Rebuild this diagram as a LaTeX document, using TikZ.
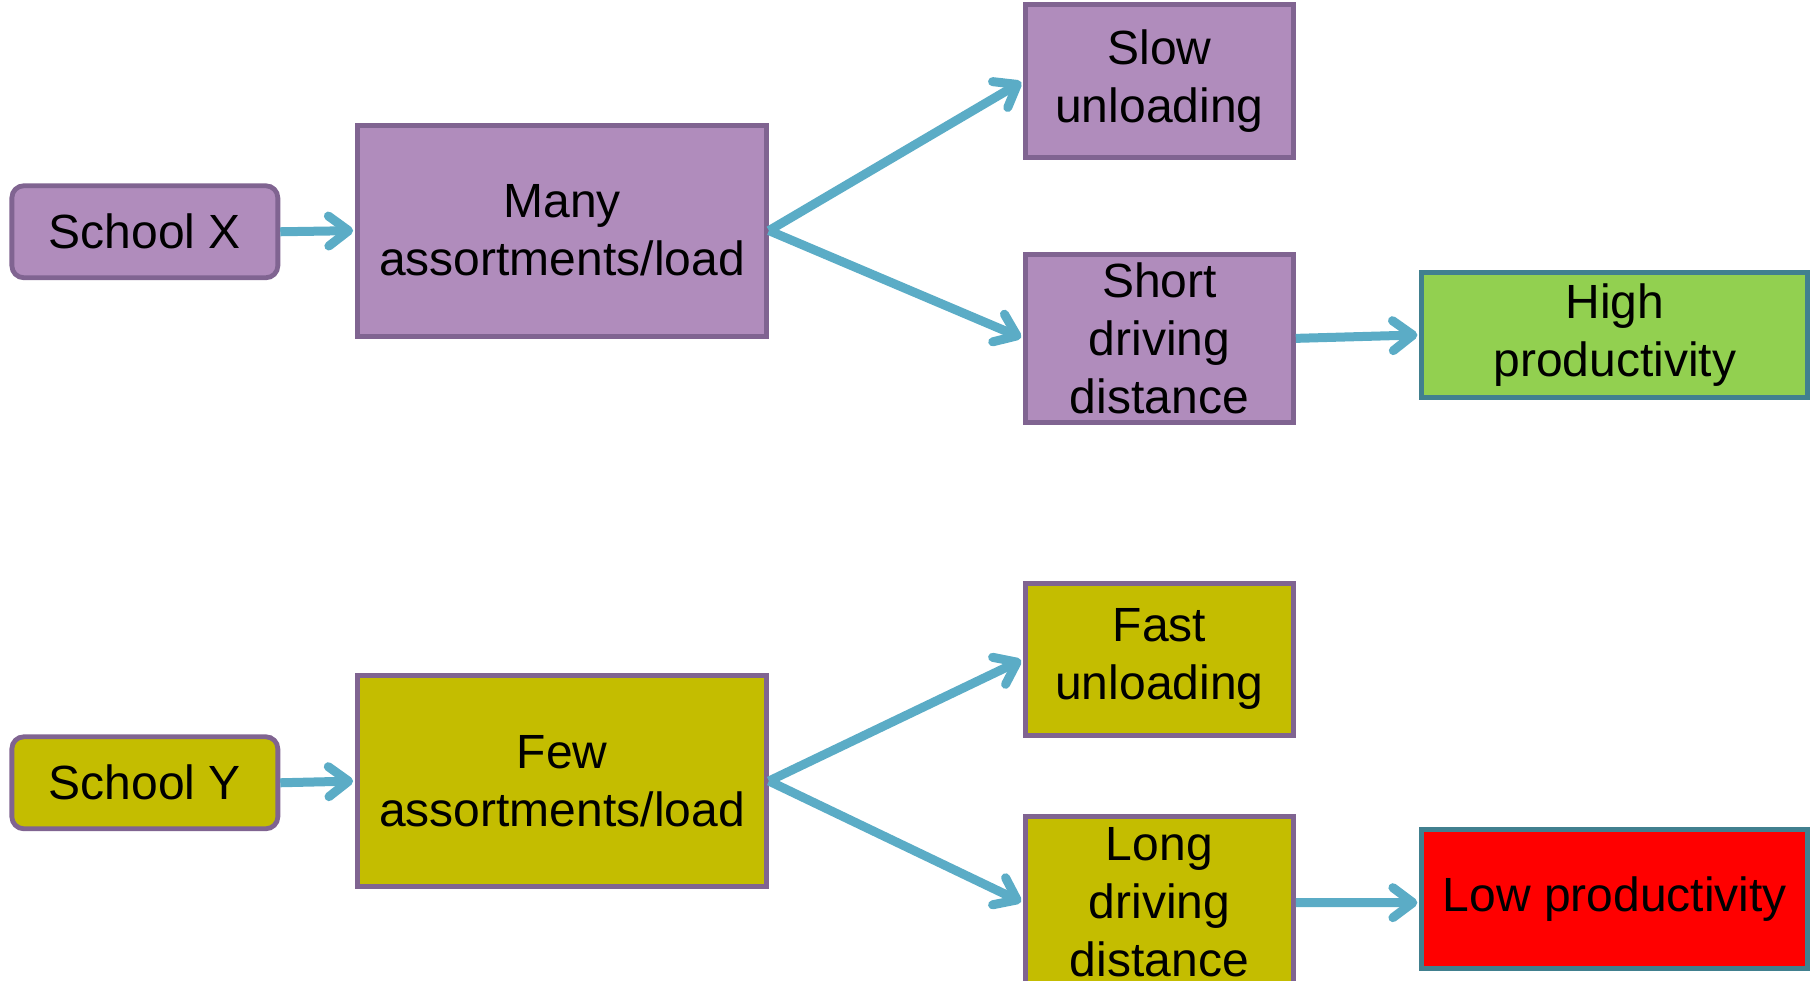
\documentclass[tikz,border=0pt]{standalone}
\usepackage{fontspec}
\setmainfont{Liberation Sans}
\usetikzlibrary{arrows.meta}
\definecolor{purfill}{HTML}{B08CBC}
\definecolor{purline}{HTML}{806491}
\definecolor{yelfill}{HTML}{C4BD00}
\definecolor{grnfill}{HTML}{92D050}
\definecolor{redfill}{HTML}{FF0000}
\definecolor{tealline}{HTML}{41808F}
\definecolor{arrblue}{HTML}{5BACC6}
\tikzset{
  box/.style={draw, line width=2.4pt, align=center, inner sep=0pt,
    font=\fontsize{24}{29}\selectfont, text=black},
  purbox/.style={box, draw=purline, fill=purfill},
  yelbox/.style={box, draw=purline, fill=yelfill},
  resbox/.style={box, draw=tealline},
  conn/.style={draw=arrblue, line width=4.5pt,
    -{Straight Barb[length=10pt,width=15pt,round]}, shorten >=1pt},
}
\begin{document}
\begin{tikzpicture}[x=0.5794pt, y=-0.5794pt]
\useasboundingbox (0,0) rectangle (1568,846);
% top row
\node[purbox, rounded corners=6pt, minimum width=133pt, minimum height=46pt] (sx) at (125,200) {School X};
\node[purbox, minimum width=204.5pt, minimum height=105.5pt] (many) at (485,199) {Many\\assortments/load};
\node[purbox, minimum width=134pt, minimum height=76.5pt] (slow) at (1000.5,70) {Slow\\unloading};
\node[purbox, minimum width=134pt, minimum height=84pt] (short) at (1000.5,292) {Short\\driving\\distance};
\node[resbox, fill=grnfill, minimum width=193pt, minimum height=62.6pt] (high) at (1393.5,289) {High\\productivity};
% bottom row
\node[yelbox, rounded corners=6pt, minimum width=133pt, minimum height=46pt] (sy) at (125,675.5) {School Y};
\node[yelbox, minimum width=204.5pt, minimum height=105.5pt] (few) at (485,674) {Few\\assortments/load};
\node[yelbox, minimum width=134pt, minimum height=76pt] (fast) at (1000.5,569) {Fast\\unloading};
\node[yelbox, minimum width=134pt, minimum height=86pt] (long) at (1000.5,779) {Long\\driving\\distance};
\node[resbox, fill=redfill, minimum width=193pt, minimum height=69.5pt] (low) at (1393.5,776) {Low productivity};
% connectors
\draw[conn] (sx.east) -- (many.west);
\draw[conn] (many.east) -- (slow.west);
\draw[conn] (many.east) -- (short.west);
\draw[conn] (short.east) -- (high.west);
\draw[conn] (sy.east) -- (few.west);
\draw[conn] (few.east) -- (fast.west);
\draw[conn] (few.east) -- (long.west);
\draw[conn] (long.east) -- ([yshift=-1.7pt]low.west);
\end{tikzpicture}
\end{document}
